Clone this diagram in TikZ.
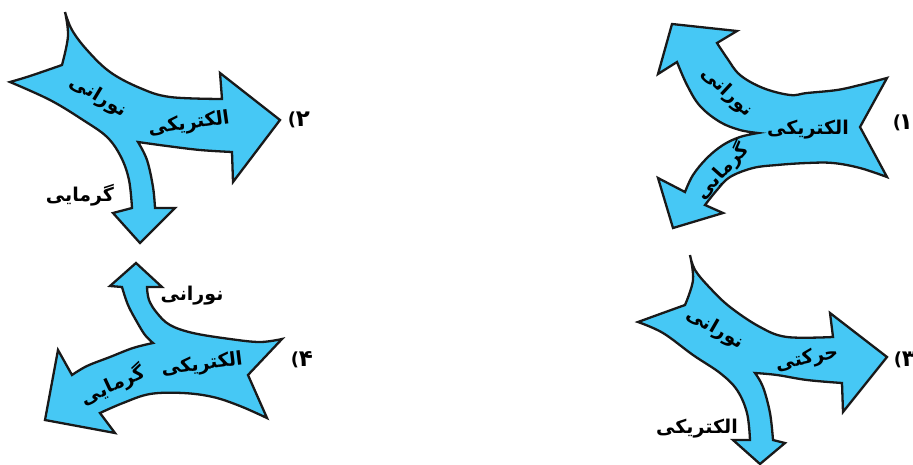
\documentclass[tikz,border=0pt]{standalone}
\usepackage{fontspec}
\TeXXeTstate=1
\newfontfamily\arabicfont[Script=Arabic]{DejaVu Sans}
\newfontfamily\numfont{DejaVu Sans}
\definecolor{arrowblue}{RGB}{70,200,245}
\tikzset{
  blob/.style={fill=arrowblue, draw=black!90, line width=2.3pt, line join=miter},
  lbl/.style={font=\arabicfont\bfseries\fontsize{19}{22}\selectfont, inner sep=0pt},
  num/.style={font=\arabicfont\bfseries\fontsize{23}{26}\selectfont, inner sep=0pt},
  paren/.style={font=\numfont\bfseries\fontsize{18}{20}\selectfont, inner sep=0pt}
}
\newcommand{\fa}[1]{\beginR #1\endR}
\begin{document}
\begin{tikzpicture}[x=1pt,y=-1pt]
\useasboundingbox (0,0) rectangle (913,464);
% ---------- diagram 2 (top left)
\path[blob] (65,12)
  -- plot[smooth,tension=0.6] coordinates {(65,12) (72,30) (87,50) (110,72) (140,88) (170,97) (222,99)}
  -- (220,73) -- (280,120) -- (233,182)
  -- plot[smooth,tension=0.6] coordinates {(232,152) (200,150) (167,146) (138,142)}
  -- plot[smooth,tension=0.6] coordinates {(138,142) (147,160) (153,187) (155,208)}
  -- (175,208) -- (140,243) -- (113,213)
  -- plot[smooth,tension=0.6] coordinates {(132,208) (129,180) (121,157) (107,137) (83,120) (50,100) (10,82)}
  -- plot[smooth,tension=0.6] coordinates {(10,82) (30,76) (62,65)}
  -- plot[smooth,tension=0.6] coordinates {(62,65) (68,36) (65,12)}
  -- cycle;
\node[lbl, rotate=-31] (d2a) at (98,97) {\fa{نورانی}};
\node[lbl, rotate=8] (d2b) at (189,124) {\fa{الکتریکی}};
\node[lbl] (d2c) at (80,195) {\fa{گرمایی}};
\node[num] (d2n) at (303,119) {۲};
\node[paren] (d2p) at (292,120) {(};
% ---------- diagram 4 (bottom left)
\path[blob] (136,263) -- (162,287)
  -- plot[smooth,tension=0.6] coordinates {(147,287) (149,300) (157,313) (170,325) (193,333) (230,339) (260,342) (282,339)}
  -- (248,375) -- (267,418)
  -- plot[smooth,tension=0.6] coordinates {(267,418) (240,406) (213,397) (183,393) (150,394) (123,403) (100,413)}
  -- (115,433) -- (45,420) -- (58,350)
  -- plot[smooth,tension=0.6] coordinates {(72,375) (87,366) (110,357) (133,348) (153,343)}
  -- plot[smooth,tension=0.6] coordinates {(153,343) (145,335) (137,322) (128,305) (122,287)}
  -- (110,286) -- cycle;
\node[lbl] (d4a) at (192,296) {\fa{نورانی}};
\node[lbl, rotate=7] (d4b) at (202,365) {\fa{الکتریکی}};
\node[lbl, rotate=25] (d4c) at (113,385) {\fa{گرمایی}};
\node[num] (d4n) at (306,359) {۴};
\node[paren] (d4p) at (295,360) {(};
% ---------- diagram 1 (top right)
\path[blob] (672,24) -- (737,31)
  -- plot[smooth,tension=0.6] coordinates {(717,43) (727,58) (740,75) (763,88) (790,95) (807,93) (837,90) (860,85) (887,78)}
  -- (860,127) -- (887,177)
  -- plot[smooth,tension=0.6] coordinates {(887,177) (860,168) (833,163) (807,163) (777,165) (753,168) (730,177) (717,190) (705,205)}
  -- (723,213) -- (673,228) -- (658,178)
  -- plot[smooth,tension=0.6] coordinates {(685,192) (693,175) (707,158) (723,145) (740,137) (758,133)}
  -- plot[smooth,tension=0.6] coordinates {(758,133) (740,130) (720,122) (700,106) (687,85) (677,62)}
  -- (658,74) -- cycle;
\node[lbl, rotate=-43] (d1a) at (727,92) {\fa{نورانی}};
\node[lbl] (d1b) at (808,130) {\fa{الکتریکی}};
\node[lbl, rotate=48] (d1c) at (722,171) {\fa{گرمایی}};
\node[num] (d1n) at (906,122) {۱};
\node[paren] (d1p) at (897,123) {(};
% ---------- diagram 3 (bottom right)
\path[blob] (690,255)
  -- plot[smooth,tension=0.6] coordinates {(690,255) (695,270) (710,288) (730,307) (760,327) (787,337) (833,337)}
  -- (830,313) -- (887,357) -- (843,412)
  -- plot[smooth,tension=0.6] coordinates {(842,383) (807,380) (777,375) (755,373)}
  -- plot[smooth,tension=0.6] coordinates {(755,373) (763,387) (770,413) (773,440)}
  -- (785,443) -- (760,464) -- (733,440)
  -- plot[smooth,tension=0.6] coordinates {(750,440) (747,413) (737,390) (720,373) (693,355) (663,333) (638,322)}
  -- plot[smooth,tension=0.6] coordinates {(638,322) (660,314) (685,305)}
  -- plot[smooth,tension=0.6] coordinates {(685,305) (693,280) (690,255)}
  -- cycle;
\node[lbl, rotate=-30] (d3a) at (715,329) {\fa{نورانی}};
\node[lbl, rotate=12] (d3b) at (807,359) {\fa{حرکتی}};
\node[lbl] (d3c) at (697,429) {\fa{الکتریکی}};
\node[num] (d3n) at (909,359) {۳};
\node[paren] (d3p) at (898,360) {(};
\end{tikzpicture}
\end{document}
